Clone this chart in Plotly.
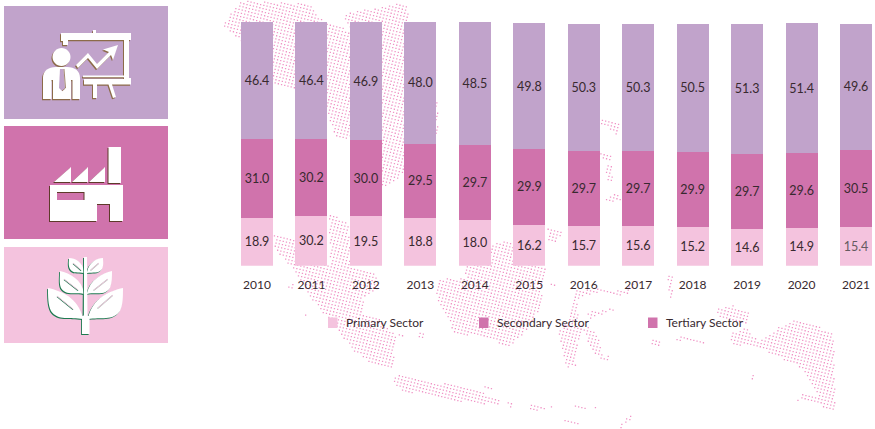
import re
import numpy as np
import plotly.graph_objects as go

W, H = 875, 429

years = ["2010", "2011", "2012", "2013", "2014", "2015", "2016", "2017", "2018", "2019", "2020", "2021"]
series_names = ["Primary Sector", "Secondary Sector", "Tertiary Sector"]
primary_values = [18.9, 19.7, 19.5, 18.8, 18.0, 16.2, 15.7, 15.6, 15.2, 14.6, 14.9, 15.4]
primary_labels = ["18.9", "30.2", "19.5", "18.8", "18.0", "16.2", "15.7", "15.6", "15.2", "14.6", "14.9", "15.4"]
secondary_values = [31.0, 30.2, 30.0, 29.5, 29.7, 29.9, 29.7, 29.7, 29.9, 29.7, 29.6, 30.5]
tertiary_values = [46.4, 46.4, 46.9, 48.0, 48.5, 49.8, 50.3, 50.3, 50.5, 51.3, 51.4, 49.6]

PURPLE, MAGENTA, PINK = "#C1A3CB", "#D073AC", "#F4C3DE"
TEXT = "#38292F"
FONT = "Lato"


def pp(s, dx=0.0, dy=0.0):
    """Pixel-space SVG path -> paper-space SVG path."""
    out, isx = [], True
    for t in re.findall(r"[MLCQZ]|-?\d+\.?\d*", s):
        if t in "MLCQZ":
            out.append(t)
        else:
            v = float(t)
            out.append(f"{(v + dx) / W:.5f}" if isx else f"{1 - (v + dy) / H:.5f}")
            isx = not isx
    return " ".join(out)


shapes = []


def solid(path, color, dx=0.0, dy=0.0):
    shapes.append(dict(type="path", xref="paper", yref="paper", layer="below",
                       path=pp(path, dx, dy), fillcolor=color, line=dict(width=0)))


def stroke(path, color, width, dx=0.0, dy=0.0):
    shapes.append(dict(type="path", xref="paper", yref="paper", layer="below",
                       path=pp(path, dx, dy), line=dict(width=width, color=color)))


def rect(x0, y0, x1, y1):
    return f"M{x0} {y0} L{x1} {y0} L{x1} {y1} L{x0} {y1} Z"


def rect_rev(x0, y0, x1, y1):
    return f"M{x0} {y0} L{x0} {y1} L{x1} {y1} L{x1} {y0} Z"


def circle(cx, cy, r):
    k = 0.5523 * r
    return (f"M{cx - r} {cy} C{cx - r} {cy - k} {cx - k} {cy - r} {cx} {cy - r} "
            f"C{cx + k} {cy - r} {cx + r} {cy - k} {cx + r} {cy} "
            f"C{cx + r} {cy + k} {cx + k} {cy + r} {cx} {cy + r} "
            f"C{cx - k} {cy + r} {cx - r} {cy + k} {cx - r} {cy} Z")


# ---------------- dotted map backdrop ----------------
map_polys = [
    [(222, 25), (240, 0), (311, 3), (318, 15), (328, 23), (350, 30), (342, 13), (405, 2), (409, 18), (403, 60),
     (437, 100), (437, 136), (405, 172), (383, 188), (350, 138), (335, 137), (322, 100), (295, 88), (275, 85), (255, 60), (240, 40)],
    [(273, 233), (295, 238), (330, 265), (328, 213), (348, 222), (350, 266), (373, 272), (380, 287), (363, 297), (363, 312),
     (377, 317), (395, 335), (393, 368), (373, 365), (353, 350), (337, 330), (310, 297), (292, 268), (273, 247)],
    [(287, 283), (293, 284), (293, 289), (288, 288)], [(303, 313), (308, 315), (308, 318), (304, 316)],
    [(398, 331), (403, 332), (403, 336), (398, 335)], [(418, 333), (423, 332), (423, 337), (418, 337)],
    [(392, 382), (397, 373), (430, 383), (453, 382), (477, 390), (500, 400), (498, 405), (453, 400), (427, 395), (400, 390)],
    [(507, 402), (513, 403), (513, 407), (508, 407)], [(525, 405), (535, 403), (547, 408), (546, 411), (530, 409)],
    [(483, 385), (493, 385), (493, 388), (483, 388)],
    [(550, 404), (557, 404), (557, 407), (550, 407)], [(572, 404), (595, 407), (595, 409), (572, 407)],
    [(562, 417), (578, 422), (578, 425), (562, 420)], [(618, 425), (631, 414), (633, 417), (620, 428)],
    [(438, 278), (465, 278), (463, 268), (493, 243), (510, 240), (545, 267), (540, 307), (525, 332), (507, 347), (487, 337),
     (453, 333), (447, 315), (435, 300)],
    [(547, 227), (562, 231), (560, 236), (553, 244), (547, 240)], [(550, 282), (555, 284), (555, 288), (550, 287)],
    [(600, 152), (610, 155), (609, 161), (600, 159)], [(605, 163), (613, 165), (611, 183), (606, 181)],
    [(603, 198), (617, 190), (621, 199), (606, 202)], [(600, 118), (618, 122), (617, 135), (607, 127), (600, 124)],
    [(572, 296), (574, 290), (600, 287), (622, 291), (635, 279), (637, 282), (625, 295), (600, 292), (576, 298)],
    [(572, 296), (577, 296), (577, 312), (584, 330), (577, 340), (575, 366), (566, 367), (557, 332), (568, 318)],
    [(585, 312), (612, 307), (613, 310), (590, 318)],
    [(586, 325), (597, 335), (602, 355), (610, 355), (608, 362), (595, 355), (585, 340)],
    [(667, 275), (674, 277), (672, 285), (673, 298), (668, 298), (668, 286)],
    [(715, 308), (732, 305), (750, 312), (747, 325), (717, 317)],
    [(673, 335), (705, 341), (705, 344), (674, 339)], [(650, 338), (662, 341), (661, 346), (651, 343)],
    [(728, 333), (747, 327), (758, 342), (777, 327), (795, 318), (833, 332), (835, 410), (803, 400), (797, 400), (803, 392),
     (817, 395), (800, 367), (757, 347), (747, 343), (733, 347)],
    [(750, 380), (754, 370), (756, 371), (752, 381)],
]


def inside(px, py, poly):
    p = np.array(poly, dtype=float)
    x0, y0 = p[:, 0], p[:, 1]
    x1, y1 = np.roll(x0, -1), np.roll(y0, -1)
    res = np.zeros(px.shape, dtype=bool)
    for a, b, c, d in zip(x0, y0, x1, y1):
        cond = (b > py) != (d > py)
        with np.errstate(divide="ignore", invalid="ignore"):
            res ^= cond & (px < (c - a) * (py - b) / (d - b + 1e-9) + a)
    return res


ang = np.radians(14)
u, v = np.meshgrid(np.arange(-60, 360), np.arange(-160, 260))
gx = 3.3 * (u * np.cos(ang) - v * np.sin(ang)) + 100
gy = 3.3 * (u * np.sin(ang) + v * np.cos(ang)) + 100
gx, gy = gx.ravel(), gy.ravel()
keep = (gx > 215) & (gx < 850) & (gy > -2) & (gy < 431)
gx, gy = gx[keep], gy[keep]
mask = np.zeros(gx.shape, dtype=bool)
for poly in map_polys:
    mask |= inside(gx, gy, poly)
dots = "".join(f"M{x:.1f} {y:.1f} L{x + 1.3:.1f} {y:.1f} L{x + 1.3:.1f} {y + 1.3:.1f} L{x:.1f} {y + 1.3:.1f} Z "
               for x, y in zip(gx[mask], gy[mask]))
solid(dots, "#F094C6")

# ---------------- icon panels ----------------
solid(rect(4, 6, 168, 119), PURPLE)
solid(rect(4, 126, 168, 239), MAGENTA)
solid(rect(4, 247, 168, 343), PINK)

# presenter icon
presenter = [
    "M61 33 L93 33 L93 30 L96 30 L96 33 L131 33 L131 40 L129 40 L129 78 L131 78 L131 84.5 L112 84.5 L116 97 L113 98 L108.5 84.5 L97 84.5 L97 98 L93 98 L93 84.5 L84 84.5 L84 79 L124 79 L124 40 L68 40 L68 45 L63 45 L63 41 L61 41 Z",
    rect(83, 75.5, 124, 77.3),
    "M76 65 L88 53 L97 64 L109 52 L103 49.5 L118 45 L113 60 L111 55 L97 69 L88 58 L78 68 Z",
    circle(61.5, 57, 9),
    "M43 99 L43 78 C43 71 48 67 56 67 L67 67 C75 67 80 71 80 78 L80 99 L72.5 99 L72.5 80 L71 80 L71 99 L53 99 L53 80 L51.5 80 L51.5 99 Z",
]
for p in presenter:
    solid(p, "#8C6B49", -1, 1.2)
for p in presenter:
    solid(p, "white")
solid("M60 69 L63.5 69 L65 88 L62 91 L59 88 Z", PURPLE)
stroke("M64 69 L65.5 88 L62 91", "#8C6B49", 0.8)

# factory icon
factory = [
    rect(108.5, 147, 121, 183),
    "M54 182 L71 167 L71 182 Z", "M72 182 L88 167 L88 182 Z", "M89 182 L105 167 L105 182 Z",
    "M50 185 L123 185 L123 221 L110 221 L110 204 L97 204 L97 221 L50 221 Z " + rect_rev(57, 192, 84.5, 200),
]
for p in factory:
    solid(p, "#5E3A2A", -1, 1)
for p in factory:
    solid(p, "white")

# plant icon
plant = [
    "M84 257 L87 257 L87.5 316 L89.5 316 L89.5 334 L82 334 L82 316 L83.5 316 Z",
    "M48 288 C62 291 78 298 83 318 L83 319 C70 317 58 321 51 311 C48 305 48 296 48 288 Z",
    "M123 288 C109 291 93 298 88 318 L88 319 C101 317 113 321 120 311 C123 305 123 296 123 288 Z",
    "M60 271 C70 273 82 280 84 293 L84 294 C75 292 66 296 61 288 C59 283 60 277 60 271 Z",
    "M112 271 C102 273 90 280 87 293 L87 294 C96 292 105 296 110 288 C112 283 112 277 112 271 Z",
    "M69 258 C75 258 83 262 84 272 L84 273 C78 272 73 274 70 269 C68 265 69 261 69 258 Z",
    "M103 258 C97 258 89 262 87 272 L87 273 C93 272 99 274 102 269 C104 265 103 261 103 258 Z",
]
for p in plant:
    solid(p, "#1E7A50", -0.9, 0.9)
for p in plant:
    solid(p, "white")
for p in ["M57 296 L73 309", "M64 279 L78 290", "M73 263 L81 270"]:
    stroke(p, "#1E7A50", 1.2, 0, 0.6)
    stroke(p, PINK, 0.9)
for p in ["M113 295 L98 308", "M108 279 L94 290", "M99 263 L91 270"]:
    stroke(p, "#A9BDB2", 1.1, -0.5, 0.5)
    stroke(p, PINK, 0.9)
stroke("M85.5 258 L85.5 315", "#1E7A50", 0.7, -2, 0)

# ---------------- legend keys + labels ----------------
legend_x = [328, 479, 648]
legend_colors = [PINK, MAGENTA, MAGENTA]
annotations = []
for name, lx, col in zip(series_names, legend_x, legend_colors):
    solid(rect(lx, 317.5, lx + 9.5, 328), col)
    annotations.append(dict(text=name, xref="paper", yref="paper", x=(lx + 15.5) / W, y=1 - 322 / H,
                            xanchor="left", yanchor="middle", showarrow=False, xshift=0,
                            font=dict(family=FONT, size=12, color=TEXT)))

# ---------------- bars ----------------
fig = go.Figure()
series = [
    (series_names[0], primary_values, primary_labels, PINK),
    (series_names[1], secondary_values, [f"{v:.1f}" for v in secondary_values], MAGENTA),
    (series_names[2], tertiary_values, [f"{v:.1f}" for v in tertiary_values], PURPLE),
]
for name, vals, labels, col in series:
    colors = [TEXT] * len(vals)
    if name == series_names[0]:
        colors[-1] = "#645A60"
    fig.add_trace(go.Bar(
        x=years, y=vals, name=name, text=labels, textposition="inside",
        insidetextanchor="middle", textangle=0, constraintext="none",
        textfont=dict(family=FONT, size=12.5, color=colors),
        marker=dict(color=col, line=dict(width=0)), showlegend=False,
    ))

bar_first, bar_last, bar_w = 257.0, 856.0, 32.0
step = (bar_last - bar_first) / 11
base_px, px_per_unit = 265.7, 2.53

fig.update_layout(
    width=W, height=H, barmode="stack", bargap=1 - bar_w / step,
    margin=dict(l=0, r=0, t=0, b=0), autosize=False,
    paper_bgcolor="white", plot_bgcolor="rgba(0,0,0,0)",
    shapes=shapes, annotations=annotations,
    xaxis=dict(type="category", range=[-bar_first / step, (W - bar_first) / step],
               showgrid=False, zeroline=False, showline=False, ticks="", ticklabelstandoff=10,
               tickfont=dict(family=FONT, size=12, color=TEXT), categoryorder="array", categoryarray=years),
    yaxis=dict(range=[0, base_px / px_per_unit], domain=[1 - base_px / H, 1],
               showgrid=False, zeroline=False, showline=False, showticklabels=False),
    font=dict(family=FONT),
)
fig.write_html("out.html", config={"displayModeBar": False},
               post_script="document.body.style.margin='0';")
